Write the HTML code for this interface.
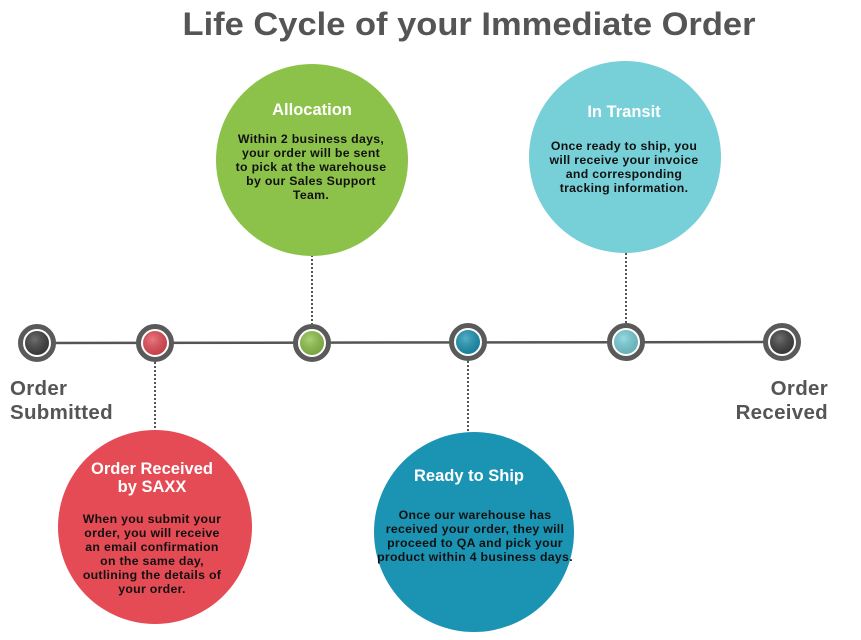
<!DOCTYPE html>
<html><head><meta charset="utf-8"><style>
html,body{margin:0;padding:0;background:#fff;width:861px;height:640px;overflow:hidden}
svg text{font-family:"Liberation Sans",Arial,sans-serif;font-weight:bold}
.t{fill:#fff;font-size:16.5px}
.b{fill:#111;font-size:12.3px;letter-spacing:0.3px}
.g{fill:#555;font-size:20.5px;letter-spacing:0.3px}
</style></head><body>
<svg width="861" height="640" viewBox="0 0 861 640" xmlns="http://www.w3.org/2000/svg">
<defs>
<radialGradient id="sh" cx="0.4" cy="0.35" r="0.7">
<stop offset="0" stop-color="#fff" stop-opacity="0.25"/><stop offset="1" stop-color="#000" stop-opacity="0.15"/>
</radialGradient>
</defs>
<text x="469" y="35" text-anchor="middle" font-size="32" fill="#555" textLength="573" lengthAdjust="spacingAndGlyphs">Life Cycle of your Immediate Order</text>

<line x1="37" y1="343" x2="782" y2="342" stroke="#555" stroke-width="2.5"/>
<g stroke="#555" stroke-width="2" stroke-dasharray="2,2">
<line x1="312" y1="255" x2="312" y2="324"/>
<line x1="626" y1="253" x2="626" y2="323"/>
<line x1="155" y1="362" x2="155" y2="430"/>
<line x1="468" y1="361" x2="468" y2="432"/>
</g>

<circle cx="312" cy="160" r="96" fill="#8dc24a"/>
<circle cx="625" cy="157" r="96" fill="#77cfd8"/>
<circle cx="155" cy="527" r="97" fill="#e54b55"/>
<circle cx="474" cy="532" r="100" fill="#1b94b4"/>

<g stroke="#5a5a5a" stroke-width="5" fill="#fff">
<circle cx="37" cy="343" r="16.5"/><circle cx="155" cy="343" r="16.5"/><circle cx="312" cy="343" r="16.5"/>
<circle cx="468" cy="342" r="16.5"/><circle cx="626" cy="342" r="16.5"/><circle cx="782" cy="342" r="16.5"/>
</g>
<circle cx="37" cy="343" r="12" fill="#3f3f3f"/>
<circle cx="155" cy="343" r="12" fill="#e54b55"/>
<circle cx="312" cy="343" r="12" fill="#8dc24a"/>
<circle cx="468" cy="342" r="12" fill="#1b94b4"/>
<circle cx="626" cy="342" r="12" fill="#77cfd8"/>
<circle cx="782" cy="342" r="12" fill="#3f3f3f"/>
<g fill="url(#sh)">
<circle cx="37" cy="343" r="12"/><circle cx="155" cy="343" r="12"/><circle cx="312" cy="343" r="12"/>
<circle cx="468" cy="342" r="12"/><circle cx="626" cy="342" r="12"/><circle cx="782" cy="342" r="12"/>
</g>

<text class="g" x="10" y="395">Order</text>
<text class="g" x="10" y="419">Submitted</text>
<text class="g" x="828" y="395" text-anchor="end">Order</text>
<text class="g" x="828" y="419" text-anchor="end">Received</text>

<g text-anchor="middle">
<text class="t" x="312" y="115">Allocation</text>
<text class="b" x="311" y="143">Within 2 business days,</text>
<text class="b" x="311" y="157">your order will be sent</text>
<text class="b" x="311" y="171">to pick at the warehouse</text>
<text class="b" x="311" y="185">by our Sales Support</text>
<text class="b" x="311" y="199">Team.</text>

<text class="t" x="624" y="117">In Transit</text>
<text class="b" x="624" y="150">Once ready to ship, you</text>
<text class="b" x="624" y="164">will receive your invoice</text>
<text class="b" x="624" y="178">and corresponding</text>
<text class="b" x="624" y="192">tracking information.</text>

<text class="t" x="152" y="474">Order Received</text>
<text class="t" x="152" y="492">by SAXX</text>
<text class="b" x="152" y="523">When you submit your</text>
<text class="b" x="152" y="537">order, you will receive</text>
<text class="b" x="152" y="551">an email confirmation</text>
<text class="b" x="152" y="565">on the same day,</text>
<text class="b" x="152" y="579">outlining the details of</text>
<text class="b" x="152" y="593">your order.</text>

<text class="t" x="469" y="481">Ready to Ship</text>
<text class="b" x="475" y="519">Once our warehouse has</text>
<text class="b" x="475" y="533">received your order, they will</text>
<text class="b" x="475" y="547">proceed to QA and pick your</text>
<text class="b" x="475" y="561">product within 4 business days.</text>
</g>
</svg>
</body></html>
